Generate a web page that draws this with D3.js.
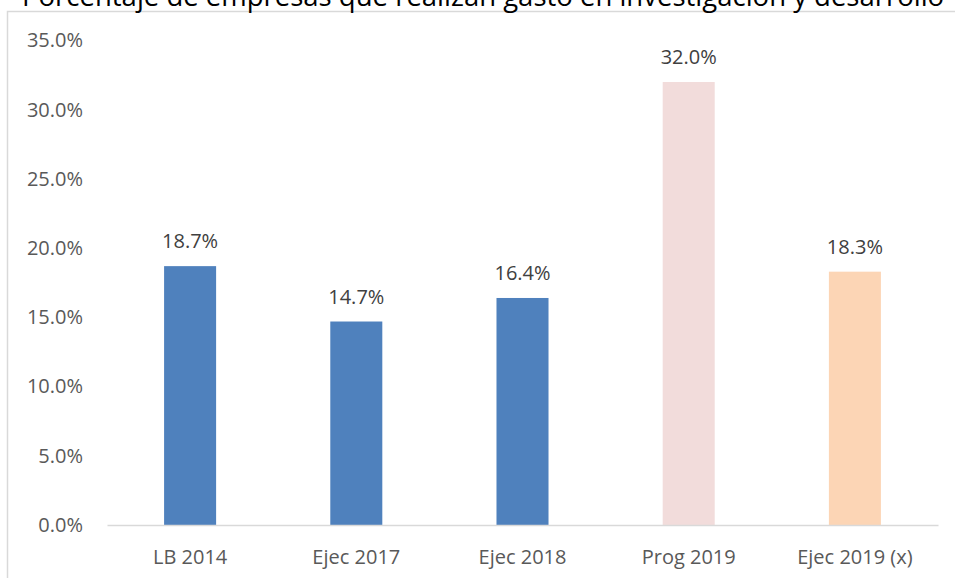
<!DOCTYPE html>
<html>
<head>
<meta charset="utf-8">
<script src="https://cdn.jsdelivr.net/npm/d3@7"></script>
<style>
  body { margin: 0; background: #fff; }
  svg { display: block; font-family: "Open Sans", sans-serif; }
</style>
</head>
<body>
<svg width="955" height="578"></svg>
<script>
// datos del grafico
var titulo = "Porcentaje de empresas que realizan gasto en investigación y desarrollo";
var categorias = ["LB 2014", "Ejec 2017", "Ejec 2018", "Prog 2019", "Ejec 2019 (x)"];
var valores = [18.7, 14.7, 16.4, 32.0, 18.3];
var colores = ["#4f81bd", "#4f81bd", "#4f81bd", "#f2dcdb", "#fcd5b5"];
var ticksY = [0, 5, 10, 15, 20, 25, 30, 35];

var svg = d3.select("svg");
var margen = {left: 107, right: 938, top: 40.5, bottom: 525};

//marco del grafico
svg.append("rect")
    .attr("x", 7.5)
    .attr("y", 11.5)
    .attr("width", 1000)
    .attr("height", 700)
    .attr("fill", "none")
    .attr("stroke", "#d9d9d9")
    .attr("stroke-width", 1.5);

//titulo (recortado arriba, como en el original)
svg.append("text")
    .attr("x", 22)
    .attr("y", 6)
    .attr("font-size", 27.5)
    .attr("fill", "#000")
    .text(titulo);

var x = d3.scaleBand()
    .domain(categorias)
    .range([margen.left, margen.right])
    .paddingInner(0.687)
    .paddingOuter(0.3435);

var y = d3.scaleLinear()
    .domain([0, 35])
    .range([margen.bottom, margen.top]);

//eje y
var ejeY = svg.append("g")
    .attr("transform", "translate(" + 83 + ",0)")
    .call(d3.axisLeft(y).tickValues(ticksY).tickSize(0).tickPadding(0)
        .tickFormat(function(d){ return d.toFixed(1) + "%"; }));
ejeY.select(".domain").remove();
ejeY.selectAll("text")
    .attr("font-family", "Open Sans")
    .attr("font-size", 20)
    .attr("fill", "#595959");

//barras
svg.selectAll(".barra")
    .data(valores)
    .enter()
    .append("rect")
    .attr("class", "barra")
    .attr("x", function(d, i){ return x(categorias[i]); })
    .attr("y", function(d){ return y(d); })
    .attr("width", x.bandwidth())
    .attr("height", function(d){ return margen.bottom - y(d); })
    .attr("fill", function(d, i){ return colores[i]; });

//eje x
var ejeX = svg.append("g")
    .attr("transform", "translate(0," + margen.bottom + ")")
    .call(d3.axisBottom(x).tickSize(0).tickPadding(0));
ejeX.select(".domain")
    .attr("stroke", "#d9d9d9")
    .attr("stroke-width", 1.5);
ejeX.selectAll("text")
    .attr("font-family", "Open Sans")
    .attr("font-size", 20)
    .attr("fill", "#595959")
    .attr("dy", null)
    .attr("y", 39);

//etiquetas de datos
svg.selectAll(".etiqueta")
    .data(valores)
    .enter()
    .append("text")
    .attr("class", "etiqueta")
    .attr("x", function(d, i){ return x(categorias[i]) + x.bandwidth() / 2; })
    .attr("y", function(d){ return y(d) - 18; })
    .attr("text-anchor", "middle")
    .attr("font-size", 20)
    .attr("fill", "#404040")
    .text(function(d){ return d.toFixed(1) + "%"; });
</script>
</body>
</html>
